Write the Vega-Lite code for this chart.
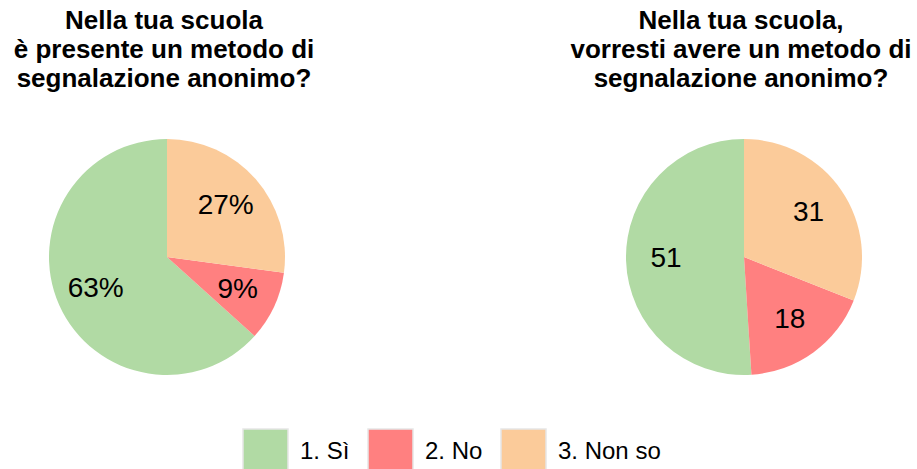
{
  "$schema": "https://vega.github.io/schema/vega-lite/v6.json",
  "padding": {"left": 13, "top": 8, "right": 0, "bottom": 0},
  "background": "white",
  "data": {"values": [
    {"q": "A", "cat": "1. Sì", "value": 63, "label": "63%"},
    {"q": "A", "cat": "2. No", "value": 9.5, "label": "9%"},
    {"q": "A", "cat": "3. Non so", "value": 27, "label": "27%"},
    {"q": "B", "cat": "1. Sì", "value": 51, "label": "51"},
    {"q": "B", "cat": "2. No", "value": 18, "label": "18"},
    {"q": "B", "cat": "3. Non so", "value": 31, "label": "31"}
  ]},
  "spacing": 255,
  "hconcat": [
    {
      "width": 250, "height": 250,
      "title": {"text": ["Nella tua scuola", "è presente un metodo di", "segnalazione anonimo?"], "dx": -3},
      "transform": [{"filter": "datum.q === 'A'"}],
      "encoding": {
        "theta": {"field": "value", "type": "quantitative", "stack": true},
        "order": {"field": "cat", "sort": "descending"},
        "color": {"field": "cat", "type": "nominal", "legend": {"orient": "none", "legendX": 200, "legendY": 296}}
      },
      "layer": [
        {"mark": {"type": "arc", "outerRadius": 118}},
        {"mark": {"type": "text", "radius": 78, "fontSize": 28, "font": "Liberation Sans", "color": "black"},
         "encoding": {"text": {"field": "label"}, "color": {"value": "black"}}}
      ]
    },
    {
      "width": 250, "height": 250,
      "title": {"text": ["Nella tua scuola,", "vorresti avere un metodo di", "segnalazione anonimo?"], "dx": -3},
      "transform": [{"filter": "datum.q === 'B'"}],
      "encoding": {
        "theta": {"field": "value", "type": "quantitative", "stack": true},
        "order": {"field": "cat", "sort": "descending"},
        "color": {"field": "cat", "type": "nominal"}
      },
      "layer": [
        {"mark": {"type": "arc", "outerRadius": 118}},
        {"mark": {"type": "text", "radius": 78, "fontSize": 28, "font": "Liberation Sans", "color": "black"},
         "encoding": {"text": {"field": "label"}, "color": {"value": "black"}}}
      ]
    }
  ],
  "resolve": {"scale": {"color": "shared"}},
  "config": {
    "view": {"stroke": null},
    "font": "Liberation Sans",
    "title": {"fontSize": 26, "font": "Liberation Sans", "fontWeight": "bold", "lineHeight": 29, "anchor": "middle", "offset": 40, "color": "black"},
    "range": {"category": ["#b1daa4", "#ff8080", "#fbcb9a"]},
    "legend": {
      "direction": "horizontal", "title": null,
      "symbolType": "square", "symbolSize": 2025, "symbolStrokeColor": "#e6e6e6", "symbolStrokeWidth": 1.5,
      "labelFontSize": 24, "labelFont": "Liberation Sans", "labelColor": "black",
      "columnPadding": 15, "labelOffset": 11
    }
  }
}
